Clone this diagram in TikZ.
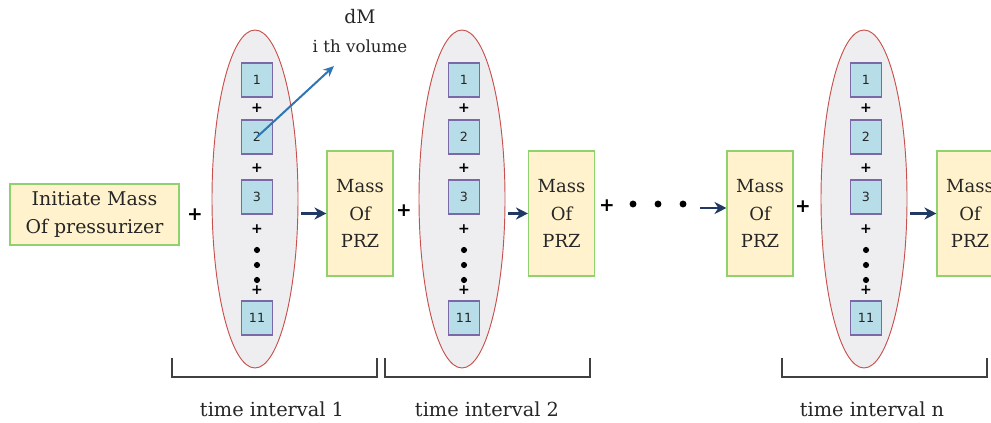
\documentclass[tikz,border=0pt]{standalone}
\usepackage{fontspec}
\setmainfont{DejaVu Serif}
\newfontfamily\cellfont{DejaVu Sans}
\usetikzlibrary{shapes.geometric,arrows.meta}
\definecolor{massfill}{HTML}{FFF2CC}
\definecolor{massline}{HTML}{8FD16F}
\definecolor{cellfill}{HTML}{B7DEE8}
\definecolor{cellline}{HTML}{7B68A6}
\definecolor{ovalfill}{HTML}{EEEEF0}
\definecolor{ovalline}{HTML}{C8504D}
\definecolor{navy}{HTML}{1F3864}
\definecolor{steel}{HTML}{2E75B6}
\definecolor{ink}{HTML}{262626}
\tikzset{
  massbox/.style={draw=massline,fill=massfill,line width=0.8pt,minimum width=49.5pt,minimum height=93.75pt,inner sep=0pt,align=center,text=ink,font=\fontsize{13.5}{20.5}\selectfont},
  cellbox/.style={draw=cellline,fill=cellfill,line width=0.8pt,minimum width=23.5pt,minimum height=25.5pt,inner sep=0pt,text=ink,font=\cellfont\fontsize{9.5}{10}\selectfont},
  oval/.style={ellipse,draw=ovalline,fill=ovalfill,line width=0.7pt,minimum width=64.5pt,minimum height=253.5pt,inner sep=0pt},
  sign/.style={inner sep=0pt,font=\cellfont\bfseries\fontsize{14}{14}\selectfont},
  minisign/.style={inner sep=0pt,font=\cellfont\bfseries\fontsize{10.5}{10.5}\selectfont},
  flow/.style={-{Stealth[length=9pt,width=9pt]},draw=navy,line width=2.2pt},
  tlabel/.style={text=ink,font=\fontsize{14.5}{14.5}\selectfont},
}
\begin{document}
\begin{tikzpicture}[x=0.75pt,y=-0.75pt]
    \useasboundingbox (0,0) rectangle (991,423);
    \clip (0,0) rectangle (991,423);
    % start value
    \node[massbox,minimum width=126.75pt,minimum height=45.75pt,font=\fontsize{14.2}{21}\selectfont] (init) at (94.5,214.5) {Initiate Mass\\Of pressurizer};
    \node[sign] (plus0) at (195,215) {+};
    % the volumes of each time step
    \foreach \k/\cx in {1/255,2/462,3/864}{
        \node[oval] (oval\k) at (\cx,199) {};
        \node[cellbox] (cell\k-1) at (\cx+2,80) {1};
        \node[cellbox] (cell\k-2) at (\cx+2,137) {2};
        \node[cellbox] (cell\k-3) at (\cx+2,197) {3};
        \node[cellbox] (cell\k-11) at (\cx+2,318) {11};
        \foreach \y in {108,168,229,290} \node[minisign] at (\cx+2,\y) {+};
        \foreach \y in {250,265,280} \fill (\cx+2,\y) circle (2.3pt);
    }
    \node[massbox] (mass1) at (360,213.5) {Mass\\Of\\PRZ};
    \node[massbox] (mass2) at (561.5,213.5) {Mass\\Of\\PRZ};
    \node[massbox] (mass3) at (760,213.5) {Mass\\Of\\PRZ};
    \node[massbox] (mass4) at (970,213.5) {Mass\\Of\\PRZ};
    \node[sign] (plus1) at (404,211) {+};
    \node[sign] (plus2) at (607,206) {+};
    \node[sign] (plus3) at (803,207) {+};
    \foreach \x in {633,658,683} \fill (\x,204) circle (2.6pt);
    \coordinate (gap) at (700,208);
    \draw[flow] ([xshift=2pt]oval1.east |- mass1) -- (mass1.west);
    \draw[flow] ([xshift=2pt]oval2.east |- mass2) -- (mass2.west);
    \draw[flow] (gap) -- (gap -| mass3.west);
    \draw[flow] ([xshift=2pt]oval3.east |- mass4) -- (mass4.west);
    % one volume
    \node[align=center,text=ink,font=\fontsize{14}{22}\selectfont] (dm) at (360,31) {dM\\{\fontsize{12.5}{12.5}\selectfont i th volume}};
    \coordinate (dmtip) at (334,66);
    \draw[-{Stealth[length=8pt,width=7pt]},draw=steel,line width=1.5pt] (cell1-2.center) -- (dmtip);
    % time intervals
    \foreach \a/\b in {172/377,385/590,782/987}
        \draw[line width=0.9pt,black!75] (\a,358) -- (\a,377) -- (\b,377) -- (\b,358);
    \node[tlabel] (time1) at (272,409) {time interval 1};
    \node[tlabel] (time2) at (487,409) {time interval 2};
    \node[tlabel] (timen) at (872,409) {time interval n};
\end{tikzpicture}
\end{document}
